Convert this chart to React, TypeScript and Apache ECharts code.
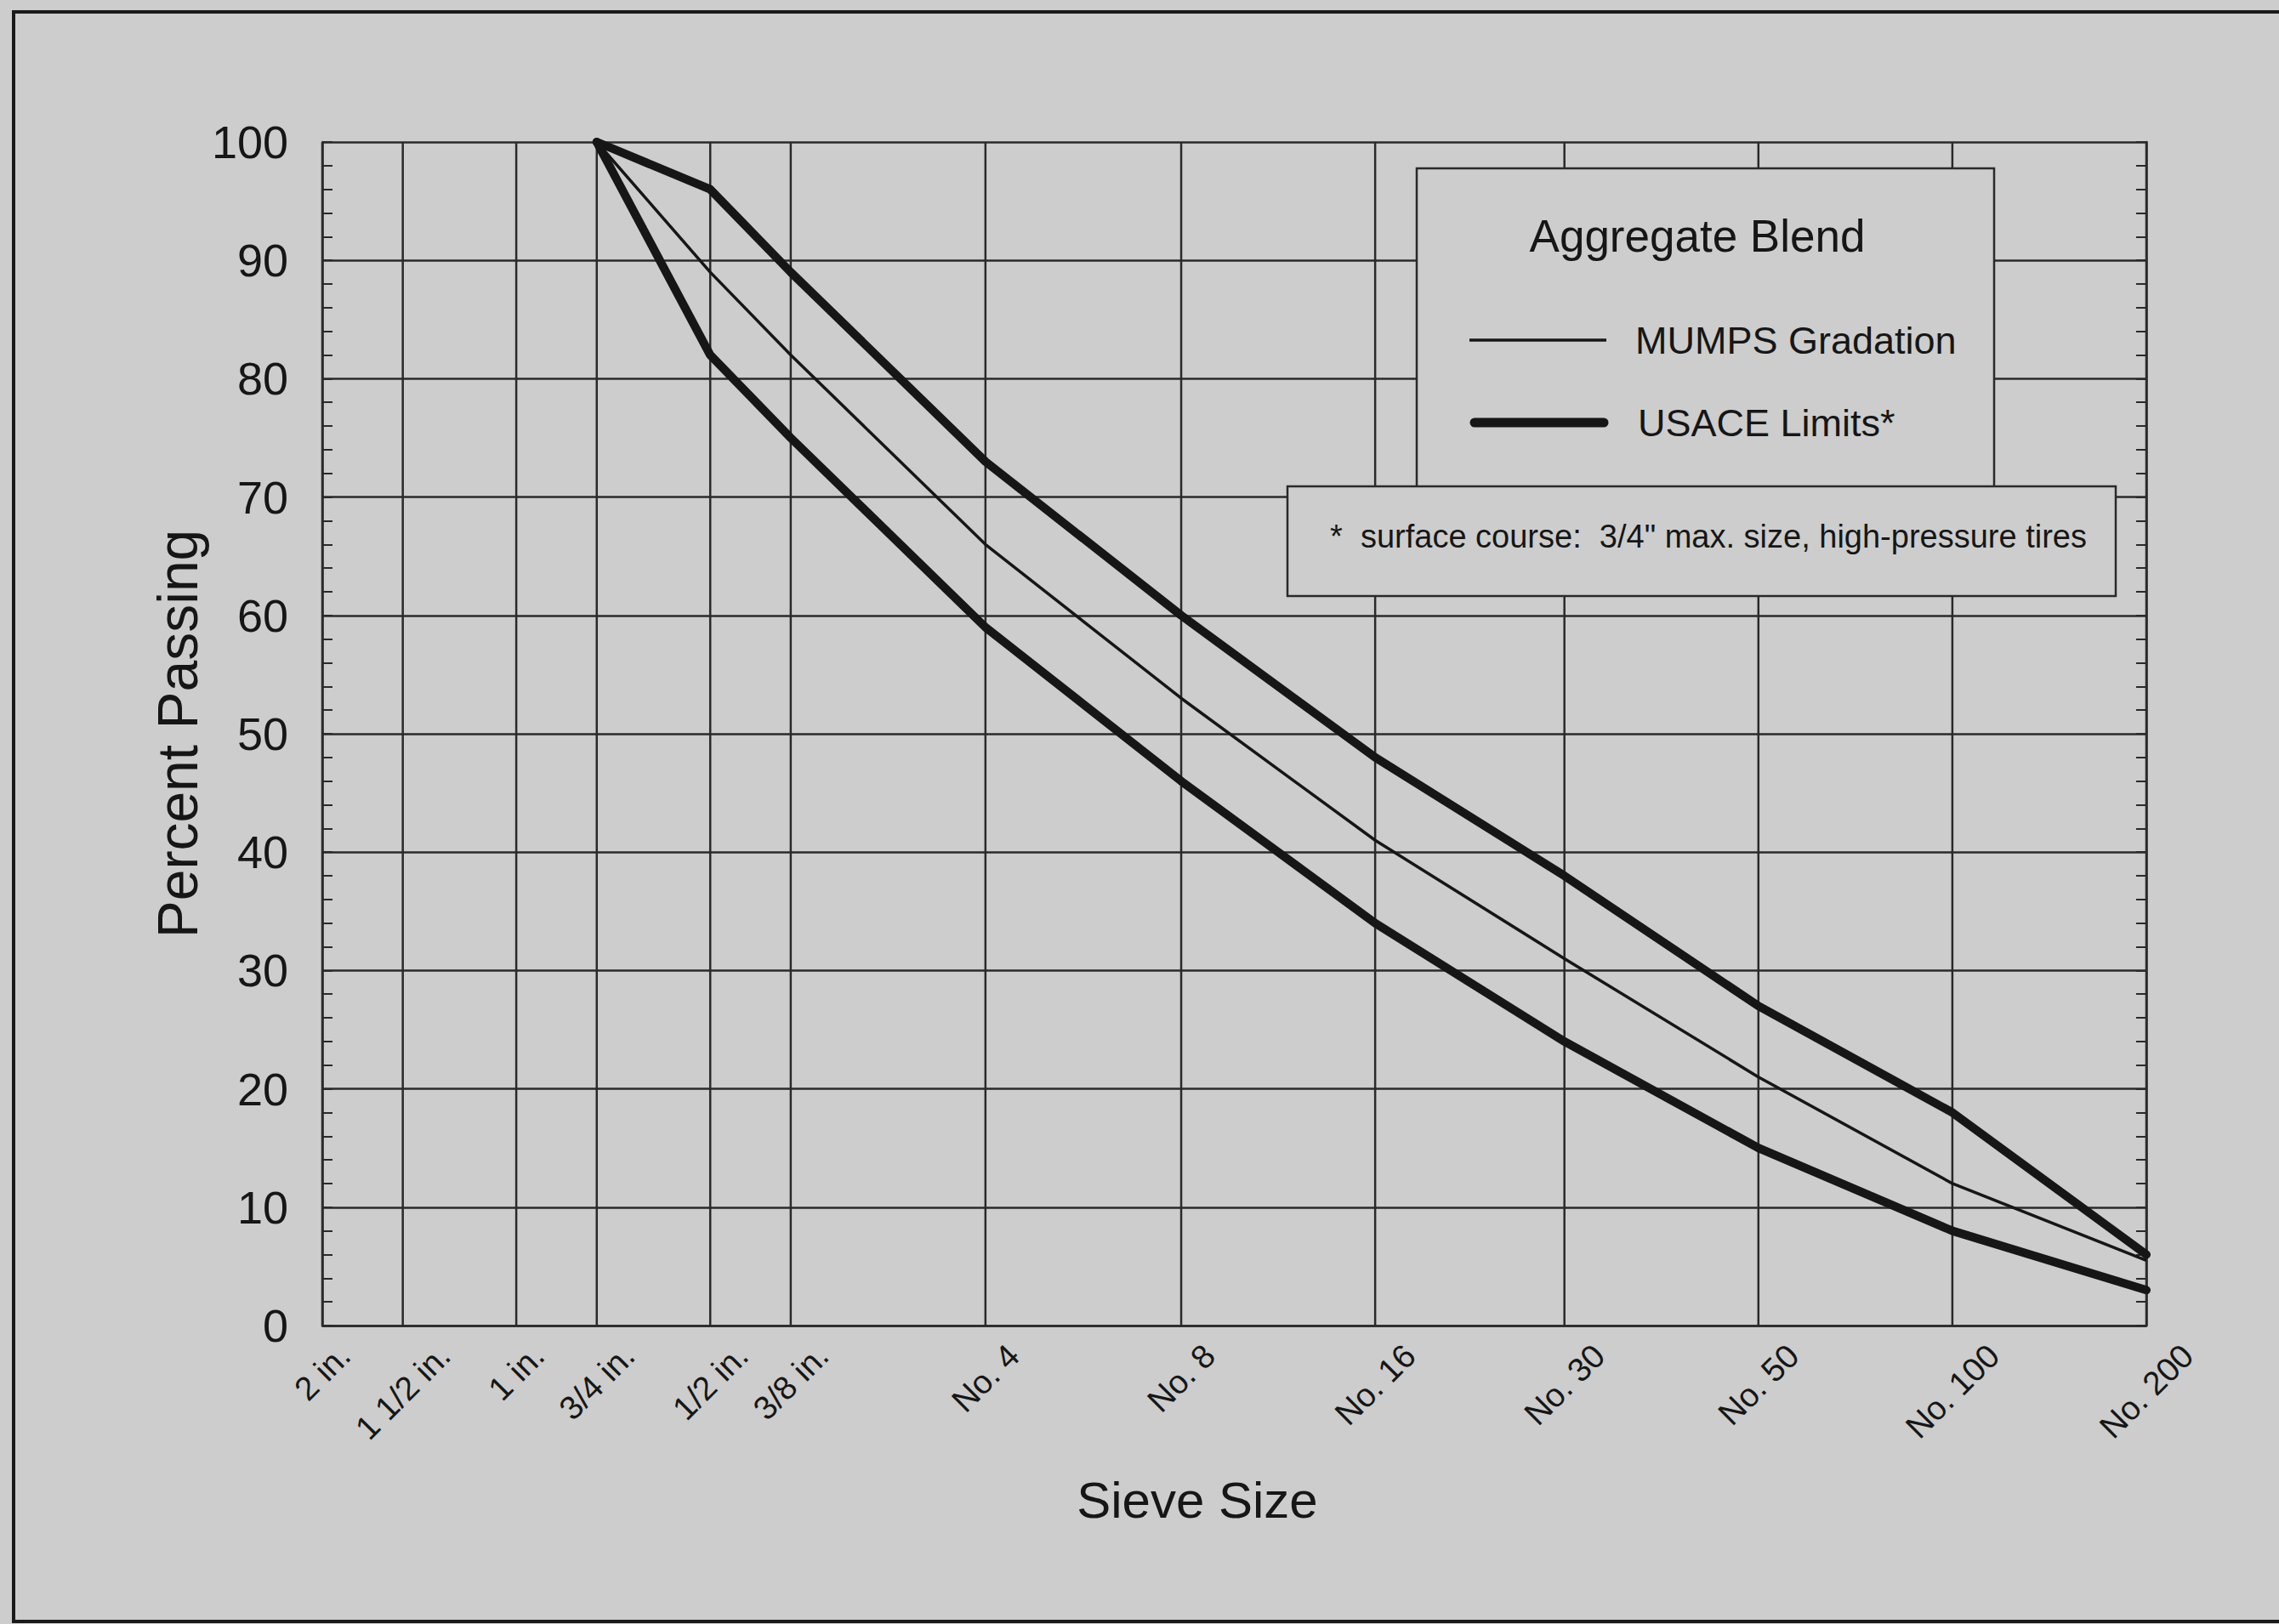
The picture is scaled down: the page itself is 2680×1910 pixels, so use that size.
import React, { useEffect, useRef } from 'react';
import * as echarts from 'echarts';

// ---------- data ----------
const sieveLabels = ['2 in.', '1 1/2 in.', '1 in.', '3/4 in.', '1/2 in.', '3/8 in.', 'No. 4', 'No. 8', 'No. 16', 'No. 30', 'No. 50', 'No. 100', 'No. 200'];
const sieveSizesMm = [50.8, 38.1, 25.4, 19.05, 12.7, 9.525, 4.75, 2.36, 1.18, 0.6, 0.3, 0.15, 0.075];

// gradation points start at the 3/4 in. sieve
const blendSieveSizesMm = [19.05, 12.7, 9.525, 4.75, 2.36, 1.18, 0.6, 0.3, 0.15, 0.075];
const mumpsGradation = [100, 89, 82, 66, 53, 41, 31, 21, 12, 5.5];
const usaceUpperLimit = [100, 96, 89, 73, 60, 48, 38, 27, 18, 6];
const usaceLowerLimit = [100, 82, 75, 59, 46, 34, 24, 15, 8, 3];

const yMin = 0;
const yMax = 100;
const yInterval = 10;

const legendTitle = 'Aggregate Blend';
const legendMumps = 'MUMPS Gradation';
const legendUsace = 'USACE Limits*';
const footnote = '*  surface course:  3/4" max. size, high-pressure tires';
const yAxisTitle = 'Percent Passing';
const xAxisTitle = 'Sieve Size';

// ---------- style ----------
const W = 2680;
const H = 1910;
const FONT = '"Liberation Sans", Arial, Helvetica, sans-serif';
const BG = '#cdcdcd';
const INK = '#161616';
const GRID_INK = '#2a2a2a';
const X_LABEL_SIZE = 39;

let measureCtx: CanvasRenderingContext2D | null = null;
function measure(text: string, size: number): number {
  if (!measureCtx) measureCtx = document.createElement('canvas').getContext('2d');
  if (!measureCtx) return text.length * size * 0.5;
  measureCtx.font = `${size}px ${FONT}`;
  return measureCtx.measureText(text).width;
}

const pair = (xs: number[], ys: number[]) => xs.map((x, i) => [x, ys[i]]);

function buildOption(): any {
  return {
    animation: false,
    backgroundColor: BG,
    grid: { left: 379, top: 167, right: W - 2524, bottom: H - 1559, containLabel: false, outerBoundsMode: 'none' },
    xAxis: {
      type: 'log',
      logBase: 10,
      inverse: true,
      min: 0.075,
      max: 50.8,
      axisLine: { show: true, lineStyle: { color: GRID_INK, width: 2.5 } },
      axisTick: { show: false },
      axisLabel: { show: false },
      splitLine: { show: false },
      minorTick: { show: false },
      minorSplitLine: { show: false },
    },
    yAxis: [
      {
        type: 'value',
        position: 'left',
        min: yMin,
        max: yMax,
        interval: yInterval,
        axisLine: { show: true, lineStyle: { color: GRID_INK, width: 2.5 } },
        axisTick: { show: true, inside: true, length: 12, lineStyle: { color: GRID_INK, width: 2 } },
        minorTick: { show: true, splitNumber: 5, length: 12, lineStyle: { color: GRID_INK, width: 2 } },
        axisLabel: { show: true, showMinLabel: true, showMaxLabel: true, fontSize: 54, fontFamily: FONT, color: INK, margin: 40 },
        splitLine: { show: true, lineStyle: { color: GRID_INK, width: 2.5 } },
      },
      {
        type: 'value',
        position: 'right',
        min: yMin,
        max: yMax,
        interval: yInterval,
        axisLine: { show: true, lineStyle: { color: GRID_INK, width: 2.5 } },
        axisTick: { show: true, inside: true, length: 12, lineStyle: { color: GRID_INK, width: 2 } },
        minorTick: { show: true, splitNumber: 5, length: 12, lineStyle: { color: GRID_INK, width: 2 } },
        axisLabel: { show: false },
        splitLine: { show: false },
      },
    ],
    series: [
      {
        type: 'custom',
        name: 'sieve grid',
        z: 1,
        silent: true,
        clip: false,
        data: sieveSizesMm.map((s) => [s, 0]),
        renderItem: (params: any, api: any) => {
          const b = api.coord([api.value(0), yMin]);
          const t = api.coord([api.value(0), yMax]);
          return {
            type: 'line',
            shape: { x1: b[0], y1: b[1], x2: t[0], y2: t[1] },
            style: { stroke: GRID_INK, lineWidth: 2.5 },
          };
        },
      },
      {
        type: 'custom',
        name: 'sieve labels',
        z: 3,
        silent: true,
        clip: false,
        data: sieveSizesMm.map((s) => [s, 0]),
        renderItem: (params: any, api: any) => {
          const p = api.coord([api.value(0), yMin]);
          const label = sieveLabels[params.dataIndex];
          const w = measure(label, X_LABEL_SIZE);
          const dy = 15 + (w + X_LABEL_SIZE) / (2 * Math.SQRT2);
          return {
            type: 'text',
            x: p[0],
            y: p[1] + dy,
            rotation: Math.PI / 4,
            style: {
              text: label,
              fontSize: X_LABEL_SIZE,
              fontFamily: FONT,
              fill: INK,
              align: 'center',
              verticalAlign: 'middle',
            },
          };
        },
      },
      {
        type: 'line',
        name: 'USACE Upper Limit',
        z: 4,
        data: pair(blendSieveSizesMm, usaceUpperLimit),
        symbol: 'none',
        lineStyle: { color: INK, width: 10, cap: 'round', join: 'round' },
      },
      {
        type: 'line',
        name: 'USACE Lower Limit',
        z: 4,
        data: pair(blendSieveSizesMm, usaceLowerLimit),
        symbol: 'none',
        lineStyle: { color: INK, width: 10, cap: 'round', join: 'round' },
      },
      {
        type: 'line',
        name: 'MUMPS Gradation',
        z: 5,
        data: pair(blendSieveSizesMm, mumpsGradation),
        symbol: 'none',
        lineStyle: { color: INK, width: 3.5, join: 'round' },
      },
    ],
    graphic: [
      {
        type: 'rect',
        z: 100,
        silent: true,
        shape: { x: 16, y: 14, width: 2800, height: 1893 },
        style: { fill: 'none', stroke: '#1a1a1a', lineWidth: 4 },
      },
      {
        type: 'text',
        z: 100,
        x: 209,
        y: 863,
        rotation: Math.PI / 2,
        style: { text: yAxisTitle, fontSize: 66, fontFamily: FONT, fill: INK, align: 'center', verticalAlign: 'middle' },
      },
      {
        type: 'text',
        z: 100,
        x: 1408,
        y: 1764,
        style: { text: xAxisTitle, fontSize: 60, fontFamily: FONT, fill: INK, align: 'center', verticalAlign: 'middle' },
      },
      {
        type: 'rect',
        z: 100,
        silent: true,
        shape: { x: 1666, y: 198, width: 679, height: 378 },
        style: { fill: BG, stroke: GRID_INK, lineWidth: 2.5 },
      },
      {
        type: 'text',
        z: 101,
        x: 1996,
        y: 277,
        style: { text: legendTitle, fontSize: 53, fontFamily: FONT, fill: INK, align: 'center', verticalAlign: 'middle' },
      },
      {
        type: 'line',
        z: 101,
        shape: { x1: 1728, y1: 400, x2: 1889, y2: 400 },
        style: { stroke: INK, lineWidth: 3.5 },
      },
      {
        type: 'text',
        z: 101,
        x: 1923,
        y: 400,
        style: { text: legendMumps, fontSize: 45, fontFamily: FONT, fill: INK, align: 'left', verticalAlign: 'middle' },
      },
      {
        type: 'line',
        z: 101,
        shape: { x1: 1734, y1: 497, x2: 1886, y2: 497 },
        style: { stroke: INK, lineWidth: 11, lineCap: 'round' },
      },
      {
        type: 'text',
        z: 101,
        x: 1926,
        y: 497,
        style: { text: legendUsace, fontSize: 45, fontFamily: FONT, fill: INK, align: 'left', verticalAlign: 'middle' },
      },
      {
        type: 'rect',
        z: 102,
        silent: true,
        shape: { x: 1514, y: 572, width: 974, height: 129 },
        style: { fill: BG, stroke: GRID_INK, lineWidth: 2.5 },
      },
      {
        type: 'text',
        z: 103,
        x: 1564,
        y: 631,
        style: { text: footnote, fontSize: 38, fontFamily: FONT, fill: INK, align: 'left', verticalAlign: 'middle' },
      },
    ],
  };
}

export default function App() {
  const ref = useRef<HTMLDivElement>(null);
  useEffect(() => {
    if (!ref.current) return;
    const chart = echarts.init(ref.current, null, { renderer: 'svg', width: W, height: H });
    chart.setOption(buildOption());
    return () => {
      chart.dispose();
    };
  }, []);
  return (
    <div
      ref={ref}
      style={{ position: 'fixed', left: 0, top: 0, width: W, height: H, background: BG, overflow: 'hidden' }}
    />
  );
}
